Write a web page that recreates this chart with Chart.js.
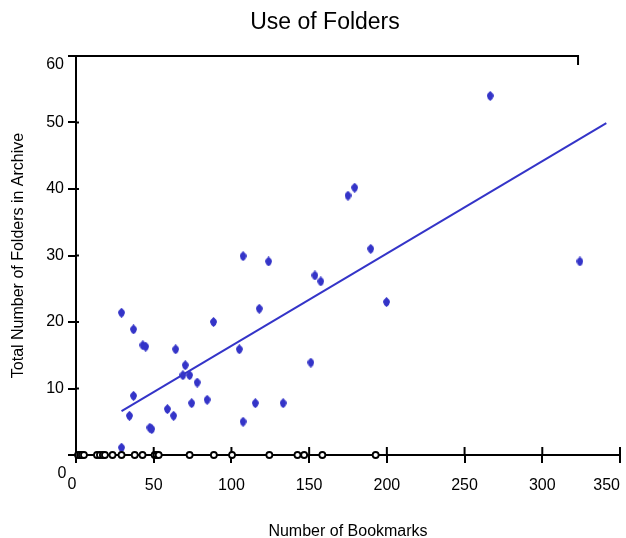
<!DOCTYPE html>
<html><head><meta charset="utf-8">
<script src="https://cdn.jsdelivr.net/npm/chart.js@4"></script>
<style>html,body{margin:0;padding:0;background:#fff}#wrap{width:626px;height:538px}</style>
</head><body><div id="wrap"><canvas id="c" width="626" height="538"></canvas></div>
<script>
const chartTitle = 'Use of Folders';
const xTitle = 'Number of Bookmarks';
const yTitle = 'Total Number of Folders in Archive';

// users with at least one folder (blue diamonds)
const bookmarks = [29.3, 37, 43, 44.8, 64.1, 88.5, 70.3, 68.8, 73.1, 78, 37, 34.4, 58.8, 62.8, 74.4, 84.4, 47.5, 48.7, 29.3,
  105.1, 107.5, 123.9, 117.9, 107.5, 115.4, 133.3, 151.1, 153.7, 157.5, 179.3, 175, 189.6, 199.8, 266.5, 324.2];
const folders = [21.4, 18.9, 16.5, 16.3, 15.9, 20, 13.5, 12, 12, 10.9, 8.9, 5.9, 6.9, 5.9, 7.8, 8.3, 4.1, 3.9, 1.1,
  15.9, 29.9, 29.1, 22, 5, 7.8, 7.8, 13.9, 27, 26.1, 40.2, 39, 31, 23, 54, 29.1];

// users with no folders (hollow circles on the axis)
const zeroBookmarks = [1.3, 2.6, 3.8, 5.1, 13.5, 15.4, 17.3, 18.6, 23.5, 29.3, 37.8, 42.8, 50.6, 51.9, 53.2, 73.1, 88.7,
  100.4, 124.4, 142.5, 146.8, 158.5, 192.8];
const zeroFolders = zeroBookmarks.map(() => 0);

// linear trend line end points
const trendBookmarks = [29.3, 341.2];
const trendFolders = [6.6, 49.9];

const xMin = 0, xMax = 350, xStep = 50;
const yMin = 0, yMax = 60, yStep = 10;
const topBorderEnd = 323;

const BLUE = '#3434c8';
const FONT = '"Liberation Sans", Arial, sans-serif';

function makeDiamond(w, h, color) {
  const c = document.createElement('canvas');
  c.width = w; c.height = h;
  const g = c.getContext('2d');
  g.fillStyle = color;
  g.beginPath();
  g.moveTo(w / 2, 0);
  g.quadraticCurveTo(w * 0.95, h * 0.25, w, h / 2);
  g.quadraticCurveTo(w * 0.95, h * 0.75, w / 2, h);
  g.quadraticCurveTo(w * 0.05, h * 0.75, 0, h / 2);
  g.quadraticCurveTo(w * 0.05, h * 0.25, w / 2, 0);
  g.closePath();
  g.fill();
  return c;
}
const diamond = makeDiamond(7, 10, BLUE);

const decor = {
  id: 'decor',
  beforeDatasetsDraw(chart) {
    const {ctx, chartArea: a, scales: {x, y}} = chart;
    ctx.save();
    ctx.strokeStyle = '#000';
    ctx.lineWidth = 2;
    // inner halves of tick marks
    x.ticks.forEach(t => {
      if (t.value === xMin) return;
      const px = x.getPixelForValue(t.value);
      ctx.beginPath(); ctx.moveTo(px, a.bottom); ctx.lineTo(px, a.bottom - 8); ctx.stroke();
    });
    y.ticks.forEach(t => {
      const py = y.getPixelForValue(t.value);
      ctx.beginPath(); ctx.moveTo(a.left, py); ctx.lineTo(a.left + 3, py); ctx.stroke();
    });
    // top frame line with end tick
    const xe = x.getPixelForValue(topBorderEnd);
    ctx.beginPath(); ctx.moveTo(a.left, a.top); ctx.lineTo(xe, a.top); ctx.lineTo(xe, a.top + 9); ctx.stroke();
    ctx.restore();
  },
  afterDraw(chart) {
    const {ctx, chartArea: a} = chart;
    ctx.save();
    ctx.fillStyle = '#000';
    ctx.textAlign = 'center';
    ctx.textBaseline = 'middle';
    ctx.font = '23px ' + FONT;
    ctx.fillText(chartTitle, 325, 23);
    ctx.font = '16px ' + FONT;
    ctx.fillText(String(yMin), a.left - 14, a.bottom + 19);
    ctx.fillText(String(xMin), a.left - 4, a.bottom + 30);
    ctx.textAlign = 'right';
    ctx.fillText(String(yMax), a.left - 12, a.top + 9);
    ctx.restore();
  }
};

new Chart(document.getElementById('c'), {
  type: 'scatter',
  data: {
    datasets: [
      {
        type: 'line',
        data: trendBookmarks.map((v, i) => ({x: v, y: trendFolders[i]})),
        borderColor: BLUE,
        borderWidth: 2,
        pointRadius: 0,
        fill: false,
        clip: false,
        order: 3
      },
      {
        data: bookmarks.map((v, i) => ({x: v, y: folders[i]})),
        pointStyle: diamond,
        pointRadius: 5,
        backgroundColor: BLUE,
        borderColor: BLUE,
        clip: false,
        order: 2
      },
      {
        data: zeroBookmarks.map((v, i) => ({x: v, y: zeroFolders[i]})),
        pointStyle: 'circle',
        pointRadius: 3,
        borderWidth: 1.8,
        borderColor: '#000',
        backgroundColor: '#fff',
        clip: false,
        order: 1
      }
    ]
  },
  options: {
    responsive: false,
    animation: false,
    events: [],
    layout: {padding: {top: 56, left: 0, right: 3, bottom: 0}},
    plugins: {legend: {display: false}, tooltip: {enabled: false}, title: {display: false}},
    scales: {
      x: {
        type: 'linear', min: xMin, max: xMax,
        afterFit(s) { s.height = 83; s.paddingLeft = 0; s.paddingRight = 0; },
        ticks: {
          stepSize: xStep, color: '#000', padding: 13, maxRotation: 0, align: 'inner',
          font: {family: FONT, size: 16},
          callback: v => (v === xMin ? '' : String(v))
        },
        grid: {drawOnChartArea: false, drawTicks: true, tickLength: 8, color: '#000', lineWidth: 2},
        border: {display: true, color: '#000', width: 2},
        title: {display: true, text: xTitle, color: '#000', font: {family: FONT, size: 16}, padding: {top: 0, bottom: -3}}
      },
      y: {
        type: 'linear', min: yMin, max: yMax,
        afterFit(s) { s.width = 76; },
        ticks: {
          stepSize: yStep, color: '#000', padding: 4,
          font: {family: FONT, size: 16},
          callback: v => (v === yMin || v === yMax ? '' : String(v))
        },
        grid: {drawOnChartArea: false, drawTicks: true, tickLength: 8, color: '#000', lineWidth: 2},
        border: {display: true, color: '#000', width: 2},
        title: {display: true, text: yTitle, color: '#000', font: {family: FONT, size: 16}, padding: {top: 9, bottom: 0}}
      }
    }
  },
  plugins: [decor]
});
</script>
</body></html>
